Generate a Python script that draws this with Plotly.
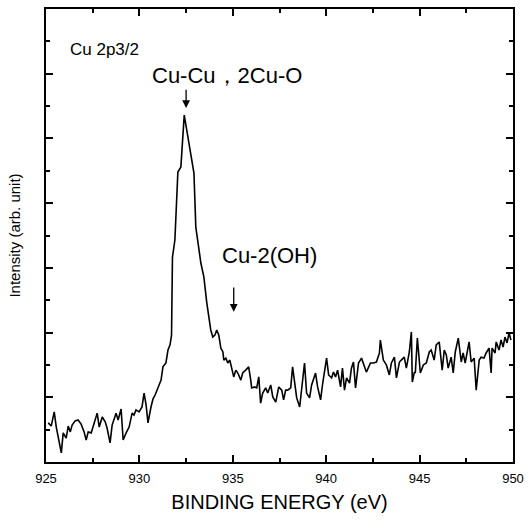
import plotly.graph_objects as go

energy = [925.12, 925.28, 925.44, 925.55, 925.82, 925.92, 926.08, 926.19, 926.30, 926.40,
          926.56, 926.72, 926.88, 927.04, 927.15, 927.26, 927.42, 927.58, 927.74, 927.85,
          928.01, 928.17, 928.27, 928.43, 928.54, 928.75, 928.86, 929.02, 929.13, 929.29,
          929.45, 929.61, 929.71, 929.82, 929.98, 930.14, 930.25, 930.36, 930.46, 930.62,
          930.73, 930.84, 931.00, 931.16, 931.26, 931.42, 931.53, 931.64, 931.72, 931.74,
          931.77, 931.90, 932.06, 932.22, 932.40, 932.56, 932.81, 932.92, 933.02, 933.29,
          933.45, 933.61, 933.82, 933.93, 934.04, 934.14, 934.25, 934.36, 934.47, 934.52,
          934.63, 934.73, 934.84, 934.95, 935.05, 935.16, 935.27, 935.43, 935.53, 935.69,
          935.85, 935.96, 936.01, 936.17, 936.28, 936.39, 936.49, 936.60, 936.76, 936.87,
          937.03, 937.14, 937.30, 937.46, 937.62, 937.72, 937.83, 937.94, 938.10, 938.20,
          938.36, 938.42, 938.58, 938.69, 938.84, 938.95, 939.11, 939.22, 939.43, 939.54,
          939.70, 939.80, 939.96, 940.02, 940.13, 940.29, 940.39, 940.50, 940.61, 940.77,
          940.87, 940.98, 941.09, 941.25, 941.35, 941.46, 941.57, 941.73, 941.89, 941.99,
          942.15, 942.37, 942.53, 942.69, 942.85, 942.90, 943.06, 943.22, 943.38, 943.49,
          943.65, 943.76, 943.92, 944.02, 944.18, 944.29, 944.45, 944.56, 944.61, 944.72,
          944.77, 944.88, 945.04, 945.20, 945.36, 945.52, 945.62, 945.78, 945.89, 946.05,
          946.21, 946.32, 946.43, 946.53, 946.69, 946.80, 946.91, 947.07, 947.23, 947.33,
          947.44, 947.65, 947.76, 947.92, 948.03, 948.19, 948.29, 948.45, 948.56, 948.72,
          948.83, 948.88, 949.04, 949.10, 949.25, 949.36, 949.47, 949.57, 949.68, 949.79,
          949.89]

intensity = [1.21, 1.11, 1.55, 1.08, 0.28, 0.90, 0.74, 1.11, 0.93, 1.14,
             1.27, 1.30, 1.17, 0.93, 0.68, 0.93, 0.90, 1.21, 1.51, 1.08,
             1.39, 1.24, 1.05, 0.59, 1.14, 1.51, 1.30, 1.64, 0.68, 0.90,
             1.08, 1.51, 1.45, 1.61, 1.55, 1.70, 2.13, 1.76, 1.21, 1.70,
             1.95, 2.07, 2.29, 2.53, 2.94, 3.06, 3.46, 3.62, 3.92, 5.01,
             6.33, 6.86, 8.96, 9.12, 10.72, 10.17, 9.39, 8.93, 7.26, 6.15,
             5.72, 4.91, 4.08, 3.86, 3.92, 4.08, 3.92, 3.52, 3.40, 3.15,
             3.21, 3.06, 3.15, 2.84, 2.63, 2.84, 2.75, 2.53, 2.75, 2.84,
             2.94, 2.53, 2.29, 2.32, 2.29, 2.63, 1.82, 2.13, 2.29, 2.13,
             2.38, 2.01, 1.85, 2.32, 2.22, 1.92, 2.22, 2.22, 2.29, 2.94,
             2.13, 1.98, 1.70, 2.22, 3.06, 2.13, 1.98, 2.38, 2.75, 2.32,
             1.92, 2.38, 2.90, 3.21, 2.69, 2.60, 2.78, 2.63, 2.84, 2.32,
             2.90, 2.22, 2.60, 2.44, 2.90, 3.09, 2.29, 3.06, 3.21, 3.06,
             2.78, 3.06, 3.06, 3.09, 3.37, 3.77, 3.15, 3.00, 2.69, 3.06,
             3.24, 2.60, 3.09, 3.15, 3.24, 2.90, 3.40, 4.02, 2.47, 2.78,
             2.75, 3.83, 2.75, 3.00, 3.06, 3.40, 3.46, 3.15, 3.62, 3.71,
             2.84, 3.46, 3.31, 2.90, 3.24, 2.75, 3.40, 3.83, 3.09, 3.37,
             3.06, 3.71, 3.09, 3.21, 2.22, 3.15, 3.24, 3.21, 3.37, 3.52,
             2.75, 3.52, 3.37, 3.71, 3.46, 3.77, 3.55, 3.86, 3.68, 3.99,
             3.77]

x_tick_vals = [925, 930, 935, 940, 945, 950]
x_tick_text = ["925", "930", "935", "940", "945", "950"]

FONT = "Liberation Sans, Arial, sans-serif"

fig = go.Figure()
fig.add_trace(go.Scatter(x=energy, y=intensity, mode="lines",
                         line=dict(color="black", width=1.6), showlegend=False,
                         hoverinfo="skip"))

axis_common = dict(showgrid=False, zeroline=False, showline=True, linecolor="black",
                   linewidth=2, mirror="ticks", ticks="inside", ticklen=7,
                   tickwidth=1.5, tickcolor="black", automargin=False)

fig.update_xaxes(range=[925, 950], tickvals=x_tick_vals, ticktext=x_tick_text,
                 tickfont=dict(family=FONT, size=13, color="black"),
                 ticklabelstandoff=3,
                 minor=dict(ticks="inside", ticklen=4, dtick=2.5, tick0=925,
                            tickcolor="black", tickwidth=1.5),
                 title=dict(text="BINDING ENERGY (eV)",
                            font=dict(family=FONT, size=20, color="black"),
                            standoff=10),
                 **axis_common)
fig.update_yaxes(range=[0, 14], dtick=2, tick0=0, showticklabels=False,
                 minor=dict(ticks="inside", ticklen=4, dtick=1, tick0=0,
                            tickcolor="black", tickwidth=1.5),
                 title=dict(text="Intensity (arb. unit)",
                            font=dict(family=FONT, size=15, color="black"),
                            standoff=20),
                 **axis_common)

ann_font = dict(family=FONT, size=22, color="black")
fig.add_annotation(x=926.2, y=12.76, text="Cu 2p3/2", showarrow=False,
                   xanchor="left", yanchor="middle",
                   font=dict(family=FONT, size=17, color="black"))
fig.add_annotation(x=930.55, y=11.96, text="Cu-Cu\uff0c2Cu-O", showarrow=False,
                   xanchor="left", yanchor="middle", font=ann_font)
fig.add_annotation(x=934.3, y=6.37, text="Cu-2(OH)", showarrow=False,
                   xanchor="left", yanchor="middle", font=ann_font)
# arrows
fig.add_annotation(x=932.5, y=10.94, ax=932.5, ay=11.55, xref="x", yref="y",
                   axref="x", ayref="y", text="", showarrow=True, arrowhead=2,
                   arrowsize=1.2, arrowwidth=1.3, arrowcolor="black")
fig.add_annotation(x=935.05, y=4.64, ax=935.05, ay=5.44, xref="x", yref="y",
                   axref="x", ayref="y", text="", showarrow=True, arrowhead=2,
                   arrowsize=1.2, arrowwidth=1.3, arrowcolor="black")

fig.update_layout(width=528, height=520, plot_bgcolor="white", paper_bgcolor="white",
                  margin=dict(l=46, r=15, t=9, b=58))

fig.write_html("out.html")
